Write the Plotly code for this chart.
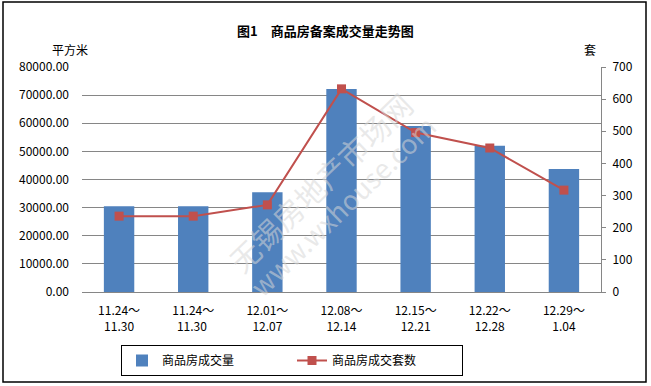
import plotly.graph_objects as go

categories = ["11.24～<br>11.30", "11.24～<br>11.30 ", "12.01～<br>12.07", "12.08～<br>12.14",
              "12.15～<br>12.21", "12.22～<br>12.28", "12.29～<br>1.04"]
area_values = [30500, 30500, 35500, 72200, 59000, 52000, 43700]
unit_values = [236, 236, 271, 632, 496, 448, 317]
left_ticks = [0, 10000, 20000, 30000, 40000, 50000, 60000, 70000, 80000]
right_ticks = [0, 100, 200, 300, 400, 500, 600, 700]

W, H = 651, 386
L, R, T, B = 82, 50, 67, 94
pw, ph = W - L - R, H - T - B

def px(x):
    return (x - L) / pw

def py(y):
    return (H - B - y) / ph

FONT = "Noto Sans CJK SC"

fig = go.Figure()
fig.add_trace(go.Bar(
    x=categories, y=area_values, name="商品房成交量",
    marker=dict(color="#4F81BD", line=dict(width=0)), width=0.41,
    yaxis="y"))
fig.add_trace(go.Scatter(
    x=categories, y=unit_values, name="商品房成交套数", mode="lines+markers",
    line=dict(color="#C0504D", width=2),
    marker=dict(symbol="square", size=9, color="#C0504D"),
    yaxis="y2"))

wm_color = "rgba(215,215,215,0.55)"
fig.update_layout(
    width=W, height=H,
    margin=dict(l=L, r=R, t=T, b=B, autoexpand=False),
    paper_bgcolor="white", plot_bgcolor="white",
    font=dict(family=FONT, size=12, color="black"),
    showlegend=True,
    legend=dict(orientation="h", x=px(292), xanchor="center", y=py(345), yanchor="top",
                bordercolor="black", borderwidth=1, font=dict(size=12, family=FONT),
                entrywidth=125, itemwidth=30, tracegroupgap=0),
    bargap=0.59,
    xaxis=dict(type="category", showgrid=False, showline=True, linecolor="#868686",
               ticks="", tickfont=dict(size=12, family=FONT), ticklabelstandoff=8),
    yaxis=dict(range=[0, 80000], tickvals=left_ticks, tickformat=".2f",
               showgrid=True, gridcolor="#868686", gridwidth=1, zeroline=False,
               showline=False, ticks="", tickfont=dict(size=12, family=FONT),
               ticklabelstandoff=12),
    yaxis2=dict(range=[0, 700], tickvals=right_ticks, overlaying="y", side="right",
                showgrid=False, zeroline=False, showline=True, linecolor="#868686",
                ticks="outside", ticklen=4, tickcolor="#868686",
                tickfont=dict(size=12, family=FONT), ticklabelstandoff=4),
    annotations=[
        dict(text="<b>图1　商品房备案成交量走势图</b>", x=px(325), y=py(30), xref="paper", yref="paper",
             showarrow=False, font=dict(size=13, family=FONT), xanchor="center", yanchor="middle"),
        dict(text="平方米", x=px(70), y=py(50), xref="paper", yref="paper",
             showarrow=False, font=dict(size=12, family=FONT), xanchor="center", yanchor="middle"),
        dict(text="套", x=px(590), y=py(50), xref="paper", yref="paper",
             showarrow=False, font=dict(size=12, family=FONT), xanchor="center", yanchor="middle"),
        dict(text="无锡房地产市场网", x=px(320), y=py(182), xref="paper", yref="paper",
             showarrow=False, textangle=-44, font=dict(size=30, family=FONT, color=wm_color),
             xanchor="center", yanchor="middle"),
        dict(text="www.wxhouse.com", x=px(342), y=py(205), xref="paper", yref="paper",
             showarrow=False, textangle=-44, font=dict(size=27, family=FONT, color=wm_color),
             xanchor="center", yanchor="middle"),
    ],
    shapes=[
        dict(type="rect", xref="paper", yref="paper", x0=px(3), x1=px(646), y0=py(382), y1=py(2),
             line=dict(color="black", width=1.5), fillcolor="rgba(0,0,0,0)", layer="below"),
    ],
)

fig.write_html("out.html", config={"displayModeBar": False},
               post_script="document.body.style.margin='0';document.body.style.padding='0';"
                           "document.body.style.overflow='hidden';")
